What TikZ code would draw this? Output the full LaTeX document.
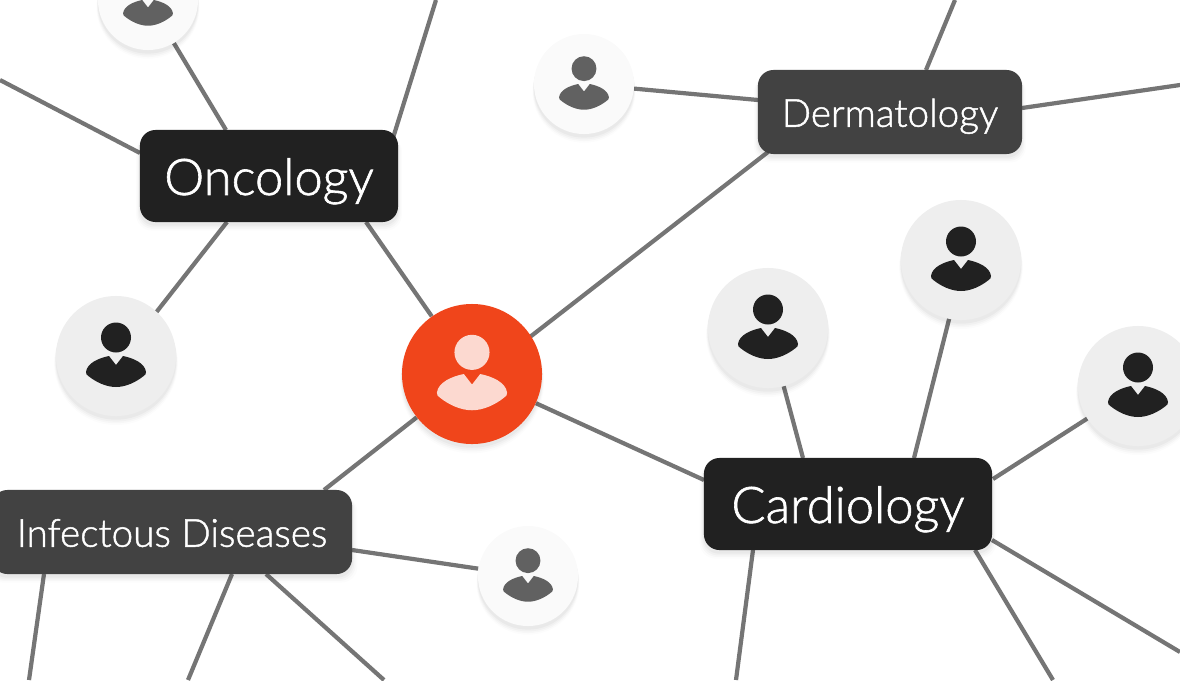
\documentclass[tikz,border=0pt]{standalone}
\usepackage{fontspec}
\usepackage{xcolor}
\usetikzlibrary{shadows,backgrounds}
\setmainfont{Lato Light}[RawFeature={embolden=1.2}]

\definecolor{rojo}{HTML}{F0451B}
\definecolor{rojoclaro}{HTML}{FCD9D0}
\definecolor{negro}{HTML}{212121}
\definecolor{oscuro}{HTML}{424242}
\definecolor{linea}{HTML}{757575}
\definecolor{circA}{HTML}{EEEEEE}
\definecolor{circB}{HTML}{FAFAFA}
\definecolor{iconB}{HTML}{616161}

\tikzset{
    softshadow/.style={
        general shadow={shadow xshift=0pt,shadow yshift=-5pt,shadow scale=1.03,fill=black,opacity=.012},
        general shadow={shadow xshift=0pt,shadow yshift=-4.2pt,shadow scale=1.02,fill=black,opacity=.02},
        general shadow={shadow xshift=0pt,shadow yshift=-3.4pt,shadow scale=1.012,fill=black,opacity=.025},
        general shadow={shadow xshift=0pt,shadow yshift=-2.4pt,shadow scale=1.005,fill=black,opacity=.03}},
    conn/.style={draw=linea,line width=3pt},
    box/.style={softshadow,rectangle,rounded corners=11pt,text=white,inner sep=0pt,text depth=0pt},
    boxA/.style={box,fill=negro,text height=27pt,font=\fontsize{36}{40}\selectfont},
    boxB/.style={box,fill=oscuro,text height=21pt,font=\fontsize{27.5}{30}\selectfont},
    peopleA/.style={softshadow,circle,fill=circA,minimum size=3cm,inner sep=0pt},
    peopleB/.style={softshadow,circle,fill=circB,minimum size=2.5cm,inner sep=0pt},
    pics/persona/.style={code={
        \fill[#1] (0,-18.5) circle (15);
        \fill[#1] (-7,0) -- (0,9) -- (7,0) .. controls (17,2) and (29,7) .. (30,16)
            .. controls (30.5,18) and (29,19) .. (27,20.5) .. controls (20,26) and (10,31) .. (0,31)
            .. controls (-10,31) and (-20,26) .. (-27,20.5) .. controls (-29,19) and (-30.5,18) .. (-30,16)
            .. controls (-29,7) and (-17,2) .. (-7,0) -- cycle;
    }}
}

\begin{document}
\begin{tikzpicture}[x=0.025cm,y=-0.025cm]

    \useasboundingbox (0,0) rectangle (1180,680);
    \clip (0,0) rectangle (1180,680);

    % centro
    \node[softshadow,circle,fill=rojo,minimum size=3.5cm,inner sep=0pt] (centro) at (472,374) {};
    \pic[scale=1.17] at (472,374) {persona=rojoclaro};

    % especialidades
    \node[boxA,minimum width=6.45cm,minimum height=2.3cm] (onco) at (269,176) {Oncology};
    \node[boxB,minimum width=6.6cm,minimum height=2.1cm] (derma) at (890,112) {Dermatology};
    \node[boxA,minimum width=7.2cm,minimum height=2.3cm] (cardio) at (848,504) {Cardiology};
    \node[boxB,minimum width=9cm,minimum height=2.1cm] (infec) at (172,532) {Infectous Diseases};

    % personas
    \node[peopleB] (pOncoA) at (148,0) {};
    \pic[scale=.83] at (148,0) {persona=iconB};
    \node[peopleA] (pOncoB) at (116,356) {};
    \pic at (116,356) {persona=negro};
    \node[peopleB] (pDerma) at (584,84) {};
    \pic[scale=.83] at (584,84) {persona=iconB};
    \node[peopleA] (pCardA) at (768,328) {};
    \pic at (768,328) {persona=negro};
    \node[peopleA] (pCardB) at (961,260) {};
    \pic at (961,260) {persona=negro};
    \node[peopleA] (pCardC) at (1138,386) {};
    \pic at (1138,386) {persona=negro};
    \node[peopleB] (pInfec) at (528,576) {};
    \pic[scale=.83] at (528,576) {persona=iconB};

    % puntos de llegada en las cajas
    \coordinate (oncoA) at (366,222);
    \coordinate (oncoB) at (226,130);
    \coordinate (oncoC) at (140,153);
    \coordinate (oncoD) at (393,138);
    \coordinate (oncoE) at (227,222);
    \coordinate (dermaA) at (768,152);
    \coordinate (dermaB) at (758,100);
    \coordinate (dermaC) at (926,70);
    \coordinate (dermaD) at (1022,108);
    \coordinate (cardA) at (704,480);
    \coordinate (cardB) at (803,458);
    \coordinate (cardC) at (914,458);
    \coordinate (cardD) at (993,479);
    \coordinate (cardE) at (753,550);
    \coordinate (cardF) at (975,550);
    \coordinate (cardG) at (992,540);
    \coordinate (infecA) at (324,490);
    \coordinate (infecB) at (352,550);
    \coordinate (infecC) at (44,574);
    \coordinate (infecD) at (232,574);
    \coordinate (infecE) at (266,574);

    % bajo los circulos
    \coordinate (bajoOnco) at (122,356);
    \coordinate (bajoCard) at (964,260);
    \coordinate (bajoCentro) at (472,382);

    % extremos libres
    \coordinate (libreA) at (0,80);
    \coordinate (libreB) at (436,0);
    \coordinate (libreC) at (955,0);
    \coordinate (libreD) at (1180,85);
    \coordinate (libreE) at (736,680);
    \coordinate (libreF) at (1053,680);
    \coordinate (libreG) at (1180,652);
    \coordinate (libreH) at (29,680);
    \coordinate (libreI) at (188,680);
    \coordinate (libreJ) at (384,680);

    % lineas
    \begin{scope}[on background layer]
        \draw[conn] (centro) -- (oncoA);
        \draw[conn] (bajoCentro) -- (dermaA);
        \draw[conn] (centro) -- (cardA);
        \draw[conn] (centro) -- (infecA);
        \draw[conn] (pOncoA) -- (oncoB);
        \draw[conn] (bajoOnco) -- (oncoE);
        \draw[conn] (libreA) -- (oncoC);
        \draw[conn] (libreB) -- (oncoD);
        \draw[conn] (pDerma) -- (dermaB);
        \draw[conn] (libreC) -- (dermaC);
        \draw[conn] (libreD) -- (dermaD);
        \draw[conn] (pCardA) -- (cardB);
        \draw[conn] (bajoCard) -- (cardC);
        \draw[conn] (pCardC) -- (cardD);
        \draw[conn] (libreE) -- (cardE);
        \draw[conn] (libreF) -- (cardF);
        \draw[conn] (libreG) -- (cardG);
        \draw[conn] (pInfec) -- (infecB);
        \draw[conn] (libreH) -- (infecC);
        \draw[conn] (libreI) -- (infecD);
        \draw[conn] (libreJ) -- (infecE);
    \end{scope}

\end{tikzpicture}
\end{document}
